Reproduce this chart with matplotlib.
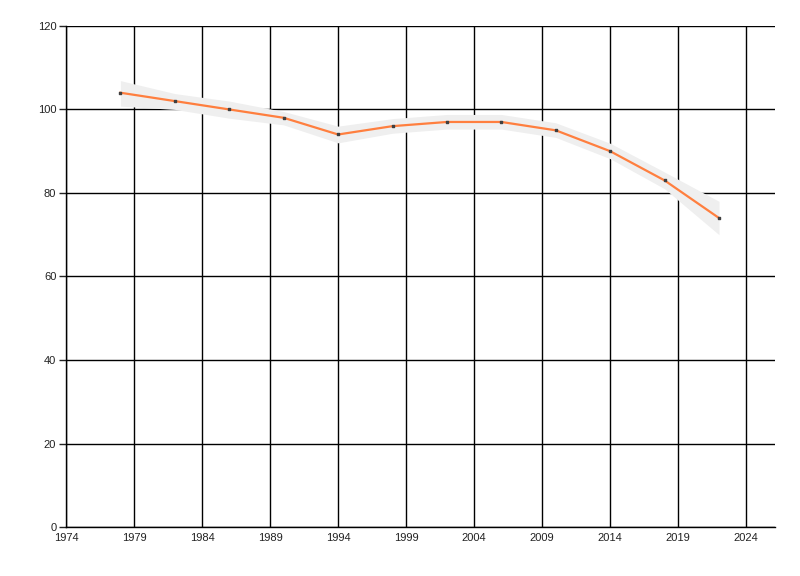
import matplotlib
matplotlib.use("Agg")
import matplotlib.pyplot as plt

YEARS = [1978, 1982, 1986, 1990, 1994, 1998, 2002, 2006, 2010, 2014, 2018, 2022]
VALUES = [104, 102, 100, 98, 94, 96, 97, 97, 95, 90, 83, 74]
BAND_LOW = [100.8, 100.0, 97.9, 96.3, 92.0, 94.3, 95.3, 95.3, 93.3, 88.2, 81.0, 70.0]
BAND_HIGH = [106.9, 103.8, 102.0, 99.5, 96.0, 97.8, 98.8, 98.8, 96.8, 91.9, 85.0, 78.0]
X_TICKS = list(range(1974, 2025, 5))
Y_TICKS = list(range(0, 121, 20))

plt.rcParams["font.family"] = ["Liberation Sans", "DejaVu Sans"]

fig = plt.figure(figsize=(8, 5.76), dpi=100, facecolor="white")
ax = fig.add_axes([0.0825, 0.085, 0.886, 0.870])

ax.fill_between(YEARS, BAND_LOW, BAND_HIGH, color="#efefef", linewidth=0, zorder=3)
ax.plot(YEARS, VALUES, color="#ff7f3f", linewidth=1.6, zorder=4)
ax.scatter(YEARS, VALUES, s=3, marker="s", color="#404040", zorder=5)

ax.set_xlim(1974, 2026.1)
ax.set_ylim(0, 120)
ax.set_xticks(X_TICKS)
ax.set_yticks(Y_TICKS)
ax.grid(True, color="black", linewidth=1, zorder=1)
ax.set_axisbelow(True)

for s in ["top", "right"]:
    ax.spines[s].set_visible(False)
for s in ["left", "bottom"]:
    ax.spines[s].set_color("black")
    ax.spines[s].set_linewidth(1)

ax.tick_params(axis="x", length=0, pad=4, labelsize=8, colors="#222222")
ax.tick_params(axis="y", length=5, width=1, pad=2, labelsize=8, colors="#222222")

fig.savefig("out.png", dpi=100, facecolor="white")
